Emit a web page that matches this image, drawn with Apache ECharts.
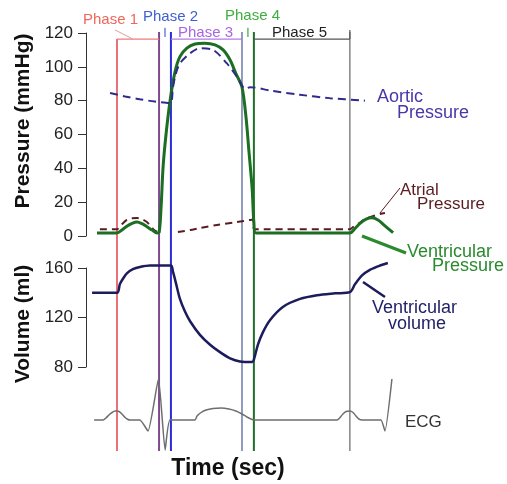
<!DOCTYPE html>
<html>
<head>
<meta charset="utf-8">
<script src="https://cdn.jsdelivr.net/npm/echarts@6/dist/echarts.min.js"></script>
<style>
  html, body { margin: 0; padding: 0; background: #fff; }
  #chart { width: 507px; height: 484px; }
</style>
</head>
<body>
<div id="chart"></div>
<script>
// Cardiac cycle (Wiggers diagram): time in seconds from the start of atrial systole.
const phaseNames = ['Phase 1', 'Phase 2', 'Phase 3', 'Phase 4', 'Phase 5'];
const phaseBounds = [0, 0.145, 0.186, 0.431, 0.472, 0.803];

const pressureTicks = [0, 20, 40, 60, 80, 100, 120];
const volumeTicks = [80, 120, 160];

// [time (s), mmHg]
const ventricularPressure = [
  [-0.069, 1.8], [0, 1.8], [0.017, 3.5], [0.034, 5.8], [0.052, 7.5], [0.069, 8.3],
  [0.086, 7.3], [0.103, 5.5], [0.121, 3.5], [0.138, 1.8], [0.145, 2],
  [0.152, 17], [0.159, 41], [0.169, 60], [0.183, 80], [0.2, 97], [0.217, 106],
  [0.241, 111], [0.269, 113.5], [0.303, 114], [0.338, 113], [0.366, 110],
  [0.39, 104], [0.41, 96], [0.431, 88], [0.445, 70], [0.455, 50], [0.466, 28],
  [0.472, 8], [0.479, 1.8], [0.803, 1.8], [0.821, 4.5], [0.838, 7.5],
  [0.859, 10], [0.879, 10.8], [0.9, 9.5], [0.924, 6], [0.952, 2]
];

const aorticPressure = [
  [-0.024, 84.5], [0.028, 82.5], [0.079, 80.8], [0.131, 79.5], [0.183, 78.6],
  [0.193, 88], [0.203, 96], [0.217, 102], [0.252, 108], [0.286, 111],
  [0.331, 110], [0.379, 102], [0.414, 94], [0.431, 89], [0.441, 87],
  [0.459, 88], [0.528, 86], [0.631, 83.5], [0.734, 81.5], [0.855, 80]
];

const atrialPressure = [
  [-0.059, 4], [0, 4], [0.017, 7], [0.034, 9.5], [0.052, 10.5], [0.069, 10.6],
  [0.086, 10], [0.103, 8.3], [0.117, 5.5], [0.128, 3.5], [0.138, 2.5],
  null,
  [0.21, 2.4], [0.252, 3.5], [0.286, 4.7], [0.345, 6.5], [0.414, 8.3],
  [0.459, 9.5], [0.469, 9.8], [0.472, 4], [0.803, 4], [0.814, 5.3],
  [0.838, 8], [0.855, 10], [0.879, 11.5], [0.907, 13], [0.924, 13.6]
];

// [time (s), ml]
const ventricularVolume = [
  [-0.086, 140], [0, 140], [0.01, 147], [0.021, 151.5], [0.034, 155.7],
  [0.055, 159], [0.079, 160.8], [0.114, 162], [0.186, 162], [0.193, 157],
  [0.203, 148], [0.217, 135], [0.234, 125], [0.252, 117], [0.286, 106],
  [0.321, 98], [0.355, 92], [0.39, 87], [0.424, 84.5], [0.466, 84],
  [0.472, 86], [0.486, 98], [0.503, 108], [0.528, 118], [0.572, 128.5],
  [0.631, 135], [0.69, 138], [0.752, 139.5], [0.803, 140.5], [0.821, 147],
  [0.845, 154], [0.872, 158.5], [0.907, 162], [0.934, 164]
];

// [time (s), mV]
const ecg = [
  [-0.079, 0], [-0.048, 0], [-0.038, 0.04], [-0.028, 0.1], [-0.017, 0.15],
  [-0.007, 0.18], [0, 0.18], [0.007, 0.17], [0.017, 0.12], [0.028, 0.05],
  [0.038, 0.01], [0.045, 0], [0.079, 0], [0.107, -0.22], [0.143, 0.82],
  [0.166, -0.6], [0.183, 0], [0.269, 0], [0.276, 0.08], [0.29, 0.15],
  [0.307, 0.2], [0.331, 0.23], [0.359, 0.24], [0.386, 0.22], [0.41, 0.18],
  [0.431, 0.12], [0.448, 0.06], [0.466, 0.01], [0.476, 0], [0.759, 0],
  [0.769, 0.05], [0.779, 0.12], [0.79, 0.17], [0.803, 0.18], [0.814, 0.15],
  [0.824, 0.08], [0.834, 0.02], [0.845, 0], [0.91, 0], [0.924, -0.22],
  [0.948, 0.82]
];

const phaseLineColors = ['#e5414d', '#7d4b8d', '#2d2dd8', '#6c7aa8', '#1f6f2a', '#666666'];
const phaseLineWidths = [1.5, 2, 2, 1.5, 2, 1.2];

const FONT = '"Liberation Sans", Arial, Helvetica, sans-serif';
const chart = echarts.init(document.getElementById('chart'), null, { renderer: 'canvas' });

const gridBase = { left: 88, width: 319 };
const xBase = { type: 'value', min: -0.1, max: 1.0, show: false };

const valueAxisStyle = {
  type: 'value',
  offset: 2,
  axisLine: { show: true, onZero: false, lineStyle: { color: '#333', width: 1 } },
  axisTick: { show: true, length: 8, lineStyle: { color: '#333', width: 1 } },
  axisLabel: { color: '#222', fontSize: 17, fontFamily: FONT, margin: 13 },
  splitLine: { show: false }
};

const series = [];

// Phase boundary markers spanning all panels
phaseBounds.forEach((t, i) => {
  series.push({
    type: 'line', xAxisIndex: 3, yAxisIndex: 3, silent: true, symbol: 'none',
    data: [[t, 0], [t, i === 0 ? 0.983 : 1]],
    lineStyle: { color: phaseLineColors[i], width: phaseLineWidths[i] },
    z: 1
  });
});

// Phase brackets across the top
const brackets = [
  { from: phaseBounds[0], to: phaseBounds[1], color: '#f07a7a' },
  { from: phaseBounds[2], to: phaseBounds[3], color: '#b27ae6' },
  { from: phaseBounds[4], to: phaseBounds[5], color: '#555555' }
];
brackets.forEach(b => {
  series.push({
    type: 'line', xAxisIndex: 3, yAxisIndex: 3, silent: true, symbol: 'none',
    data: [[b.from, 0.983], [b.to, 0.983]],
    lineStyle: { color: b.color, width: 1.3 }, z: 1
  });
});
// short markers for the two isovolumetric phases
[[(phaseBounds[1] + phaseBounds[2]) / 2, '#4a62d8'], [(phaseBounds[3] + phaseBounds[4]) / 2, '#3da53d']].forEach(([t, c]) => {
  series.push({
    type: 'line', xAxisIndex: 3, yAxisIndex: 3, silent: true, symbol: 'none',
    data: [[t, 0.988], [t, 1.01]], clip: false,
    lineStyle: { color: c, width: 1.2 }, z: 1
  });
});
series.push({
  type: 'line', xAxisIndex: 3, yAxisIndex: 3, silent: true, symbol: 'none', clip: false,
  data: [[-0.007, 1.005], [0.055, 0.983]],
  lineStyle: { color: '#d9a0a0', width: 1 }, z: 1
});
series.push({
  type: 'line', xAxisIndex: 3, yAxisIndex: 3, silent: true, symbol: 'none', clip: false,
  data: [[phaseBounds[5], 0.983], [phaseBounds[5], 1.005]],
  lineStyle: { color: '#555', width: 1.2 }, z: 1
});

series.push({
  name: 'Atrial Pressure', type: 'line', xAxisIndex: 0, yAxisIndex: 0,
  data: atrialPressure, symbol: 'none', smooth: 0.3, connectNulls: false, clip: false,
  lineStyle: { color: '#5a1c22', width: 2, type: [7, 5] }, z: 3
});
series.push({
  name: 'Ventricular Pressure', type: 'line', xAxisIndex: 0, yAxisIndex: 0,
  data: ventricularPressure, symbol: 'none', smooth: 0.3, clip: false,
  lineStyle: { color: '#1b6e22', width: 3 }, z: 4
});
series.push({
  name: 'Aortic Pressure', type: 'line', xAxisIndex: 0, yAxisIndex: 0,
  data: aorticPressure, symbol: 'none', smooth: 0.3, clip: false,
  lineStyle: { color: '#2f2a8c', width: 2, type: [8, 5] }, z: 5
});
series.push({
  name: 'Ventricular volume', type: 'line', xAxisIndex: 1, yAxisIndex: 1,
  data: ventricularVolume, symbol: 'none', smooth: 0.3, clip: false,
  lineStyle: { color: '#1c1c5c', width: 2.5 }, z: 4
});
series.push({
  name: 'ECG', type: 'line', xAxisIndex: 2, yAxisIndex: 2,
  data: ecg, symbol: 'none', smooth: 0.15, clip: false,
  lineStyle: { color: '#6e6e6e', width: 1.5 }, z: 3
});

function label(text, x, y, color, size, extra) {
  return Object.assign({
    type: 'text', x, y, silent: true,
    style: { text, fill: color, font: `${size}px ${FONT}`, align: 'left', verticalAlign: 'middle' }
  }, extra || {});
}
function leader(x1, y1, x2, y2, color, width) {
  return { type: 'line', silent: true, shape: { x1, y1, x2, y2 }, style: { stroke: color, lineWidth: width } };
}

const graphic = [
  label(phaseNames[0], 83, 20, '#f0675a', 15),
  label(phaseNames[1], 143, 17, '#3f5ed0', 15),
  label(phaseNames[2], 178, 33, '#a866e0', 15),
  label(phaseNames[3], 225, 16, '#3fae3f', 15),
  label(phaseNames[4], 272, 33, '#222', 15),

  label('Aortic', 377, 97, '#4838a8', 18),
  label('Pressure', 397, 113, '#4838a8', 18),
  label('Atrial', 400, 190, '#5a1c22', 17),
  label('Pressure', 417, 204, '#5a1c22', 17),
  label('Ventricular', 407, 252, '#2a8a2e', 18),
  label('Pressure', 432, 266, '#2a8a2e', 18),
  label('Ventricular', 372, 308, '#22226a', 18),
  label('volume', 388, 324, '#22226a', 18),
  label('ECG', 405, 422, '#333', 17),

  leader(380, 213, 400, 188, '#5a1c22', 1),
  leader(362, 236, 406, 253, '#2a8a2e', 3),
  leader(363, 282, 385, 297, '#1c1c5c', 2.5),

  {
    type: 'text', x: 23, y: 121, rotation: Math.PI / 2, silent: true,
    style: { text: 'Pressure (mmHg)', fill: '#111', font: `bold 21px ${FONT}`, align: 'center', verticalAlign: 'middle' }
  },
  {
    type: 'text', x: 23, y: 324, rotation: Math.PI / 2, silent: true,
    style: { text: 'Volume (ml)', fill: '#111', font: `bold 21px ${FONT}`, align: 'center', verticalAlign: 'middle' }
  },
  {
    type: 'text', x: 228, y: 469, silent: true,
    style: { text: 'Time (sec)', fill: '#111', font: `bold 23px ${FONT}`, align: 'center', verticalAlign: 'middle' }
  }
];

chart.setOption({
  backgroundColor: '#ffffff',
  animation: false,
  grid: [
    Object.assign({ top: 33, height: 203 }, gridBase),
    Object.assign({ top: 268, height: 99 }, gridBase),
    Object.assign({ top: 370, height: 90 }, gridBase),
    Object.assign({ top: 32, height: 419 }, gridBase)
  ],
  xAxis: [0, 1, 2, 3].map(i => Object.assign({ gridIndex: i }, xBase)),
  yAxis: [
    Object.assign({ gridIndex: 0, min: pressureTicks[0], max: pressureTicks[pressureTicks.length - 1], interval: 20 }, valueAxisStyle),
    Object.assign({ gridIndex: 1, min: volumeTicks[0], max: volumeTicks[volumeTicks.length - 1], interval: 40 }, valueAxisStyle),
    { gridIndex: 2, type: 'value', min: -0.8, max: 1.0, show: false },
    { gridIndex: 3, type: 'value', min: 0, max: 1, show: false }
  ],
  series,
  graphic
});
</script>
</body>
</html>
